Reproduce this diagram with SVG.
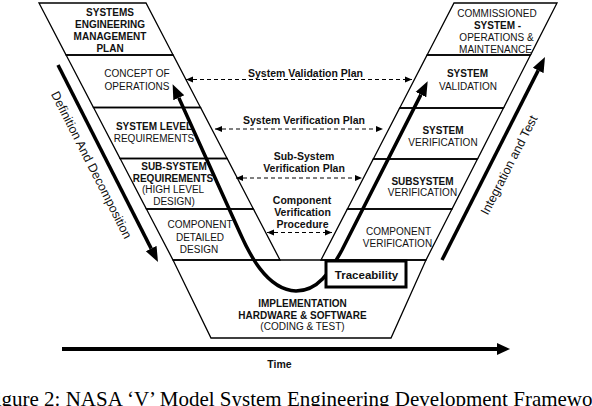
<svg xmlns="http://www.w3.org/2000/svg" width="592" height="406" viewBox="0 0 592 406">
<style>
.box{fill:none;stroke:#000;stroke-width:1.3;stroke-linejoin:miter}
.t{font-family:"Liberation Sans",Arial,sans-serif;font-size:10px;fill:#111;text-anchor:middle}
.b{font-weight:bold}
.lbl{font-family:"Liberation Sans",Arial,sans-serif;font-size:10.5px;font-weight:bold;fill:#111;text-anchor:middle}
.side{font-family:"Liberation Sans",Arial,sans-serif;font-size:12.5px;fill:#111;text-anchor:middle}
.thick{fill:none;stroke:#000;stroke-width:3.5}
.dash{fill:none;stroke:#000;stroke-width:1;stroke-dasharray:4 3}
.cap{font-family:"Liberation Serif","Times New Roman",serif;font-size:21px;fill:#000}
</style>
<defs>
<marker id="big" markerUnits="userSpaceOnUse" markerWidth="16" markerHeight="14" refX="0" refY="7" orient="auto-start-reverse" viewBox="0 0 16 14">
<path d="M0,1 L15,7 L0,13 z" fill="#000"/>
</marker>
<marker id="time" markerUnits="userSpaceOnUse" markerWidth="14" markerHeight="14" refX="0" refY="7" orient="auto" viewBox="0 0 14 14">
<path d="M0,1 L13,7 L0,13 z" fill="#000"/>
</marker>
<marker id="sm" markerUnits="userSpaceOnUse" markerWidth="7" markerHeight="7" refX="7" refY="3.5" orient="auto-start-reverse" viewBox="0 0 7 7">
<path d="M0,0.5 L7,3.5 L0,6.5 z" fill="#000"/>
</marker>
</defs>
<rect x="0" y="0" width="592" height="406" fill="#fff"/>

<g id="semp">
<polygon class="box" points="39,3 146,3 173.1,55 66.1,55"/>
<text class="t b" x="110" y="16">SYSTEMS</text>
<text class="t b" x="110" y="28">ENGINEERING</text>
<text class="t b" x="110" y="40">MANAGEMENT</text>
<text class="t b" x="110" y="52">PLAN</text>
</g>
<g id="conops">
<polygon class="box" points="66.1,55 173.1,55 200.5,107.5 93.5,107.5"/>
<text class="t" x="137" y="77">CONCEPT OF</text>
<text class="t" x="137" y="90">OPERATIONS</text>
</g>
<g id="sysreq">
<polygon class="box" points="93.5,107.5 200.5,107.5 227.1,158.5 120.1,158.5"/>
<text class="t b" x="154" y="130">SYSTEM LEVEL</text>
<text class="t" x="154" y="142">REQUIREMENTS</text>
</g>
<g id="subreq">
<polygon class="box" points="120.1,158.5 227.1,158.5 253.4,209 146.4,209"/>
<text class="t b" x="174" y="170">SUB-SYSTEM</text>
<text class="t b" x="173" y="181.5">REQUIREMENTS</text>
<text class="t" x="173" y="193">(HIGH LEVEL</text>
<text class="t" x="174" y="204.5">DESIGN)</text>
</g>
<g id="compdesign">
<polygon class="box" points="146.4,209 253.4,209 280,260 173,260"/>
<text class="t" x="200" y="228">COMPONENT</text>
<text class="t" x="200" y="241">DETAILED</text>
<text class="t" x="199" y="253">DESIGN</text>
</g>

<g id="commissioned">
<polygon class="box" points="454,3 557,3 530.5,55 427.1,55"/>
<text class="t" x="497" y="17">COMMISSIONED</text>
<text class="t b" x="497.5" y="28.5">SYSTEM -</text>
<text class="t" x="496.5" y="41">OPERATIONS &amp;</text>
<text class="t" x="495.5" y="53">MAINTENANCE</text>
</g>
<g id="sysval">
<polygon class="box" points="427.1,55 530.5,55 503.5,108 399.7,108"/>
<text class="t b" x="467.5" y="77">SYSTEM</text>
<text class="t" x="468" y="90">VALIDATION</text>
</g>
<g id="sysver">
<polygon class="box" points="399.7,108 503.5,108 477.5,159 373.3,159"/>
<text class="t b" x="443" y="134">SYSTEM</text>
<text class="t" x="443" y="146">VERIFICATION</text>
</g>
<g id="subver">
<polygon class="box" points="373.3,159 477.5,159 452,209 347.4,209"/>
<text class="t b" x="422.5" y="185">SUBSYSTEM</text>
<text class="t" x="422.5" y="196">VERIFICATION</text>
</g>
<g id="compver">
<polygon class="box" points="347.4,209 452,209 426,260 321,260"/>
<text class="t" x="398.5" y="235">COMPONENT</text>
<text class="t" x="397.5" y="247">VERIFICATION</text>
</g>
<g id="impl">
<polygon class="box" points="173,260 426,260 391,338 211,338"/>
<text class="t b" x="302.5" y="307">IMPLEMENTATION</text>
<text class="t b" x="302.5" y="318.5">HARDWARE &amp; SOFTWARE</text>
<text class="t" x="302.5" y="330">(CODING &amp; TEST)</text>
</g>

<g id="connectors">
<path class="dash" d="M186,79.5 H412" marker-start="url(#sm)" marker-end="url(#sm)"/>
<path class="dash" d="M215,129 H383" marker-start="url(#sm)" marker-end="url(#sm)"/>
<path class="dash" d="M236,178 H362" marker-start="url(#sm)" marker-end="url(#sm)"/>
<path class="dash" d="M267,232.5 H332" marker-start="url(#sm)" marker-end="url(#sm)"/>
<path class="thick" d="M58,65 L151.2,248.6" marker-end="url(#big)"/>
<path class="thick" d="M442,260 L538.2,70.4" marker-end="url(#big)"/>
<path class="thick" d="M178.8,97.8 L240,233 C248,251 266,290 296,291 C318,291 330,272 342,250 L420.9,94.6" marker-start="url(#big)" marker-end="url(#big)"/>
<path fill="none" stroke="#000" stroke-width="4" d="M62,349 H497" marker-end="url(#time)"/>
</g>

<g id="labels">
<text class="lbl" x="305.5" y="77">System Validation Plan</text>
<text class="lbl" x="304" y="124">System Verification Plan</text>
<text class="lbl" x="304" y="159.5">Sub-System</text>
<text class="lbl" x="304" y="172">Verification Plan</text>
<text class="lbl" x="302" y="203.5">Component</text>
<text class="lbl" x="302.5" y="216">Verification</text>
<text class="lbl" x="302.5" y="228">Procedure</text>
<text class="lbl" x="279.5" y="368">Time</text>
<text class="side" transform="translate(87.7,166.9) rotate(63.1)">Definition And Decomposition</text>
<text class="side" transform="translate(512.8,167) rotate(-62.9)">Integration and Test</text>
</g>

<g id="traceability">
<rect x="326" y="261" width="80" height="26" fill="#fff" stroke="#000" stroke-width="3"/>
<text class="lbl" x="366.5" y="278.5" style="font-size:11.5px">Traceability</text>
</g>

<text class="cap" x="-16" y="406">Figure 2: NASA ‘V’ Model System Engineering Development Framework</text>
</svg>
